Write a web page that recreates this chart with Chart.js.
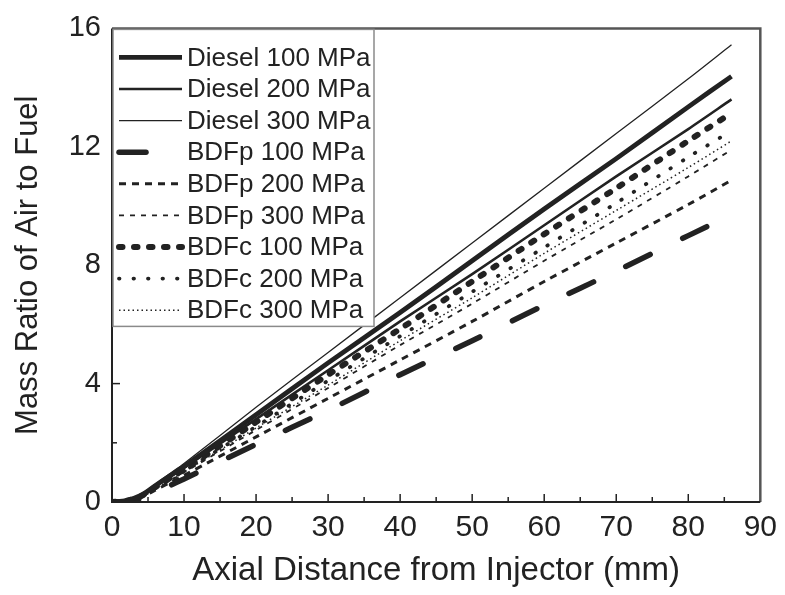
<!DOCTYPE html>
<html>
<head>
<meta charset="utf-8">
<script src="https://cdn.jsdelivr.net/npm/chart.js@4.4.1/dist/chart.umd.min.js"></script>
<style>
  html, body { margin: 0; background: #ffffff; }
  #wrap { width: 785px; height: 595px; }
</style>
</head>
<body>
<div id="wrap"><canvas id="mixChart" width="785" height="595"></canvas></div>
<script>
// distancia axial (mm) y relación másica aire/combustible
const distance  = [0, 2, 4, 6, 8, 10, 20, 30, 40, 50, 60, 70, 80, 86];
const diesel100 = [0, 0.05, 0.22, 0.55, 0.88, 1.20, 2.95, 4.70, 6.40, 8.15, 9.90, 11.60, 13.35, 14.38];
const diesel200 = [0, 0.05, 0.22, 0.52, 0.85, 1.15, 2.80, 4.45, 6.10, 7.70, 9.35, 11.00, 12.60, 13.60];
const diesel300 = [0, 0.05, 0.25, 0.60, 0.95, 1.30, 3.20, 5.05, 6.90, 8.75, 10.60, 12.45, 14.30, 15.45];
const bdfp100   = [0, 0.02, 0.12, 0.33, 0.55, 0.78, 1.95, 3.10, 4.30, 5.45, 6.65, 7.80, 9.00, 9.70];
const bdfp200   = [0, 0.03, 0.15, 0.40, 0.65, 0.90, 2.20, 3.50, 4.80, 6.10, 7.45, 8.75, 10.05, 10.87];
const bdfp300   = [0, 0.03, 0.16, 0.43, 0.71, 1.00, 2.43, 3.85, 5.30, 6.70, 8.15, 9.55, 11.00, 11.90];
const bdfc100   = [0, 0.04, 0.20, 0.50, 0.80, 1.10, 2.70, 4.30, 5.85, 7.45, 9.05, 10.60, 12.20, 13.14];
const bdfc200   = [0, 0.04, 0.18, 0.47, 0.76, 1.05, 2.55, 4.10, 5.60, 7.10, 8.60, 10.10, 11.65, 12.54];
const bdfc300   = [0, 0.03, 0.17, 0.45, 0.74, 1.02, 2.50, 3.95, 5.45, 6.90, 8.40, 9.85, 11.30, 12.20];

const seriesNames = [
  'Diesel 100 MPa', 'Diesel 200 MPa', 'Diesel 300 MPa',
  'BDFp 100 MPa', 'BDFp 200 MPa', 'BDFp 300 MPa',
  'BDFc 100 MPa', 'BDFc 200 MPa', 'BDFc 300 MPa'
];
const seriesData = [diesel100, diesel200, diesel300, bdfp100, bdfp200, bdfp300, bdfc100, bdfc200, bdfc300];

const xTicks = [0, 10, 20, 30, 40, 50, 60, 70, 80, 90];
const yTicks = [0, 4, 8, 12, 16];

const FONT = '"Liberation Sans", Arial, sans-serif';
const INK = '#222222';

// estilo de trazo por serie: grosor, patrón, extremo
const estilos = [
  { w: 4.8, dash: [], cap: 'butt' },
  { w: 2.6, dash: [], cap: 'butt' },
  { w: 1.3, dash: [], cap: 'butt' },
  { w: 5.5, dash: [27, 36], cap: 'round' },
  { w: 3,   dash: [7, 6], cap: 'butt' },
  { w: 1.8, dash: [5, 6], cap: 'butt' },
  { w: 6,   dash: [3.5, 11.5], cap: 'round' },
  { w: 3.8, dash: [0.5, 14], cap: 'round' },
  { w: 1.5, dash: [1.5, 3], cap: 'butt' }
];

const datasets = seriesData.map((arr, i) => ({
  label: seriesNames[i],
  data: distance.map((d, k) => ({ x: d, y: arr[k] })),
  borderColor: INK,
  backgroundColor: INK,
  borderWidth: estilos[i].w,
  borderDash: estilos[i].dash,
  borderCapStyle: estilos[i].cap,
  pointRadius: 0,
  tension: 0.3,
  fill: false
}));

// marco, ticks hacia dentro y leyenda con borde
const marcoPlugin = {
  id: 'marco',
  afterDatasetsDraw(chart) {
    const { ctx, chartArea: a, scales } = chart;
    ctx.save();
    ctx.setLineDash([]);
    ctx.strokeStyle = '#555';
    ctx.lineWidth = 2.5;
    ctx.beginPath();
    ctx.moveTo(a.left, a.top); ctx.lineTo(a.right, a.top); ctx.lineTo(a.right, a.bottom);
    ctx.stroke();
    ctx.strokeStyle = INK;
    ctx.lineWidth = 2;
    ctx.beginPath();
    ctx.moveTo(a.left, a.top); ctx.lineTo(a.left, a.bottom); ctx.lineTo(a.right, a.bottom);
    ctx.stroke();

    ctx.lineWidth = 1.5;
    for (let v = 5; v < 90; v += 5) {
      const px = scales.x.getPixelForValue(v);
      const len = v % 10 === 0 ? 8 : 5;
      ctx.beginPath(); ctx.moveTo(px, a.bottom); ctx.lineTo(px, a.bottom - len); ctx.stroke();
    }
    for (let v = 2; v < 16; v += 2) {
      const py = scales.y.getPixelForValue(v);
      const len = v % 4 === 0 ? 8 : 5;
      ctx.beginPath(); ctx.moveTo(a.left, py); ctx.lineTo(a.left + len, py); ctx.stroke();
    }

    // leyenda
    const bx = a.left + 1, by = a.top + 1, bw = 261, bh = 297;
    ctx.fillStyle = '#ffffff';
    ctx.fillRect(bx, by, bw, bh);
    ctx.strokeStyle = '#8a8a8a';
    ctx.lineWidth = 1.5;
    ctx.strokeRect(bx, by, bw, bh);

    ctx.font = '26px ' + FONT;
    ctx.textBaseline = 'middle';
    ctx.textAlign = 'left';
    seriesNames.forEach((name, i) => {
      const y = by + 28 + i * 31.6;
      const e = estilos[i];
      ctx.strokeStyle = INK;
      ctx.lineWidth = e.w;
      ctx.lineCap = e.cap;
      ctx.setLineDash(e.dash);
      ctx.beginPath(); ctx.moveTo(bx + 6, y); ctx.lineTo(bx + 69, y); ctx.stroke();
      ctx.setLineDash([]);
      ctx.fillStyle = INK;
      ctx.fillText(name, bx + 74, y + 1);
    });
    ctx.restore();
  }
};

new Chart(document.getElementById('mixChart').getContext('2d'), {
  type: 'line',
  data: { datasets },
  options: {
    responsive: false,
    animation: false,
    devicePixelRatio: 1,
    layout: { padding: { top: 24, right: 21, left: 0, bottom: 0 } },
    plugins: { legend: { display: false }, tooltip: { enabled: false } },
    scales: {
      x: {
        type: 'linear', min: 0, max: 90,
        afterBuildTicks: s => { s.ticks = xTicks.map(v => ({ value: v })); },
        afterFit: s => { s.height = 93; },
        grid: { display: false, drawTicks: false },
        border: { display: false },
        ticks: { color: INK, font: { family: FONT, size: 30 }, padding: 8, maxRotation: 0 },
        title: { display: true, text: 'Axial Distance from Injector (mm)', color: INK,
                 font: { family: FONT, size: 33 }, padding: { top: 0, bottom: 4 } }
      },
      y: {
        type: 'linear', min: 0, max: 16,
        afterBuildTicks: s => { s.ticks = yTicks.map(v => ({ value: v })); },
        afterFit: s => { s.width = 112; },
        grid: { display: false, drawTicks: false },
        border: { display: false },
        ticks: { color: INK, font: { family: FONT, size: 29 }, padding: 11 },
        title: { display: true, text: 'Mass Ratio of Air to Fuel', color: INK,
                 font: { family: FONT, size: 31 }, padding: { top: 10, bottom: 0 } }
      }
    }
  },
  plugins: [marcoPlugin]
});
</script>
</body>
</html>
